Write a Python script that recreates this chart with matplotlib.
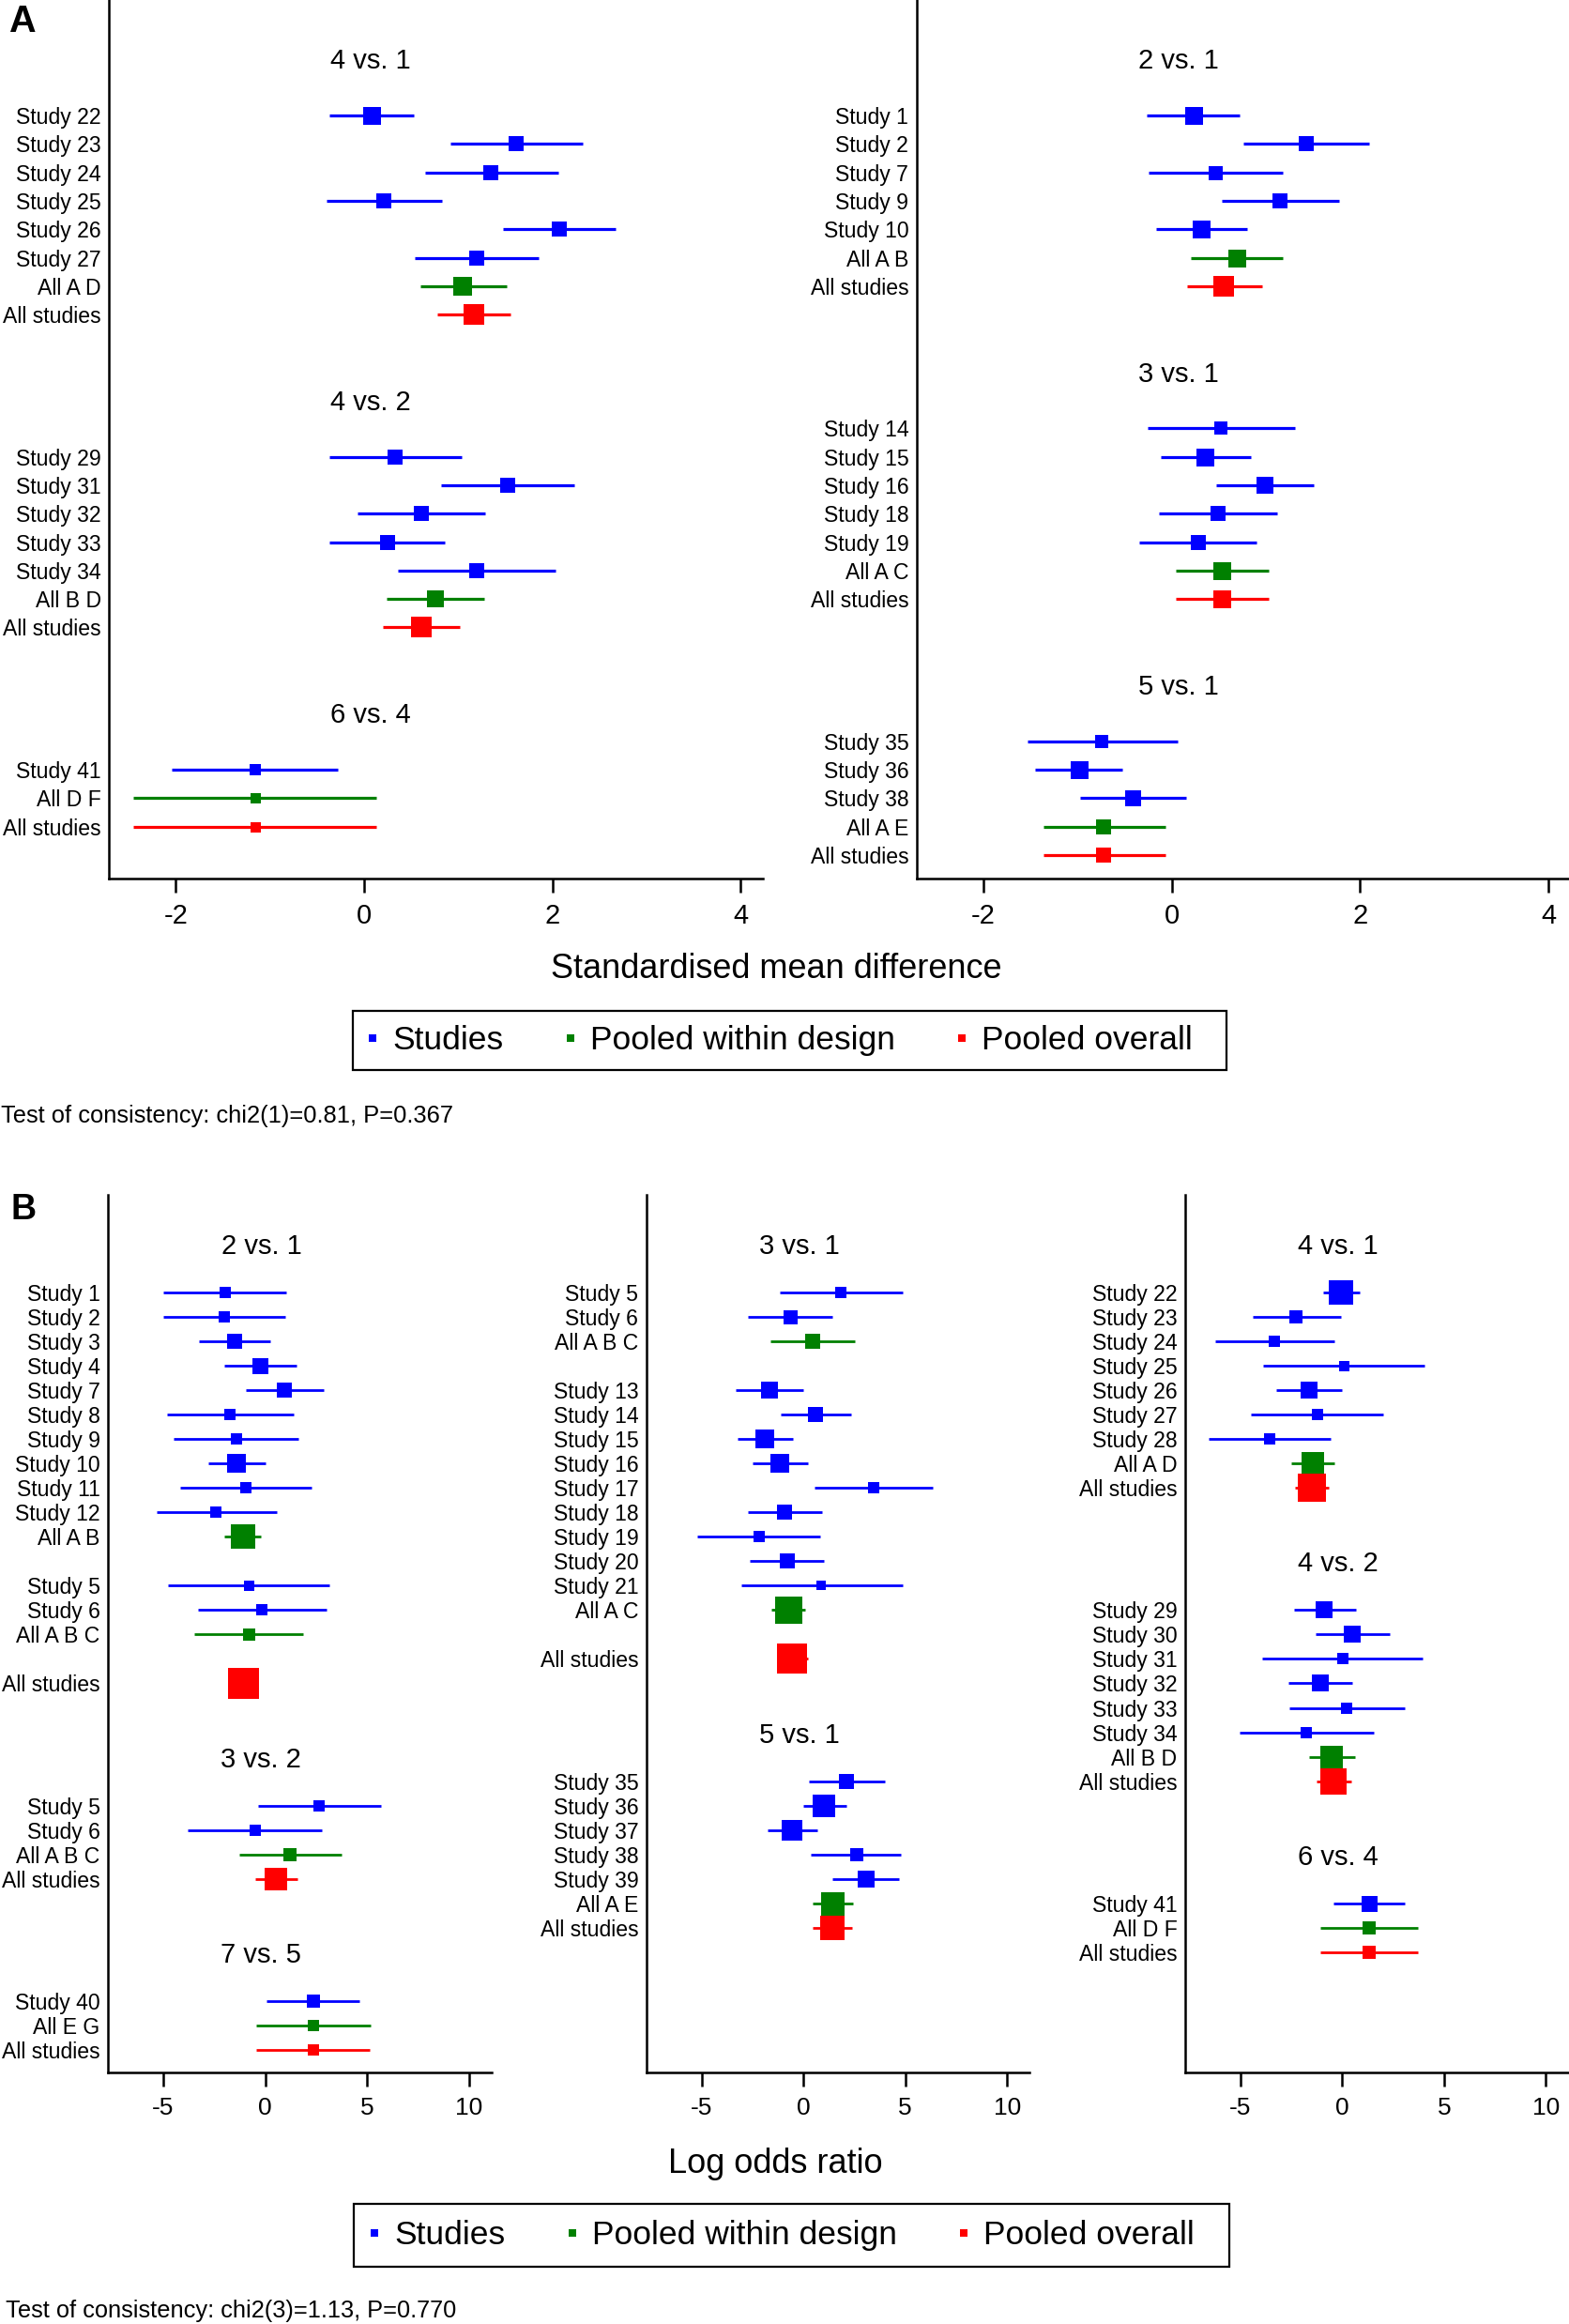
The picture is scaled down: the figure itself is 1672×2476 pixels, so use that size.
import matplotlib
matplotlib.use("Agg")
import matplotlib.pyplot as plt
import matplotlib.transforms as mtransforms
from matplotlib.lines import Line2D
from matplotlib.patches import Rectangle

plt.rcParams['font.family'] = ['Liberation Sans', 'DejaVu Sans']
plt.rcParams['axes.unicode_minus'] = False

W, H = 1672, 2476

BLUE = '#0000ff'
GREEN = '#008000'
RED = '#ff0000'

# rows: (label, estimate, lower, upper, box size ~ weight); None = blank row
# ---- A: standardised mean difference
smd_4v1 = [
    ("Study 22", 0.08, -0.37, 0.53, 19),
    ("Study 23", 1.61, 0.92, 2.32, 16),
    ("Study 24", 1.35, 0.65, 2.06, 16),
    ("Study 25", 0.21, -0.40, 0.83, 16),
    ("Study 26", 2.07, 1.47, 2.67, 16),
    ("Study 27", 1.20, 0.54, 1.85, 16),
    ("All A D", 1.05, 0.60, 1.51, 20),
    ("All studies", 1.17, 0.78, 1.55, 22),
]
smd_4v2 = [
    ("Study 29", 0.33, -0.37, 1.04, 16),
    ("Study 31", 1.52, 0.82, 2.23, 16),
    ("Study 32", 0.61, -0.07, 1.29, 16),
    ("Study 33", 0.25, -0.37, 0.86, 16),
    ("Study 34", 1.20, 0.36, 2.03, 16),
    ("All B D", 0.76, 0.24, 1.28, 18.5),
    ("All studies", 0.61, 0.20, 1.02, 22),
]
smd_6v4 = [
    ("Study 41", -1.16, -2.04, -0.28, 12.5),
    ("All D F", -1.16, -2.45, 0.13, 11),
    ("All studies", -1.16, -2.45, 0.13, 11),
]
smd_2v1 = [
    ("Study 1", 0.23, -0.26, 0.72, 19),
    ("Study 2", 1.43, 0.76, 2.10, 15.5),
    ("Study 7", 0.46, -0.24, 1.18, 15),
    ("Study 9", 1.15, 0.53, 1.78, 16),
    ("Study 10", 0.31, -0.17, 0.80, 19),
    ("All A B", 0.69, 0.20, 1.18, 19),
    ("All studies", 0.55, 0.16, 0.96, 22),
]
smd_3v1 = [
    ("Study 14", 0.52, -0.25, 1.31, 14),
    ("Study 15", 0.35, -0.12, 0.84, 19),
    ("Study 16", 0.99, 0.47, 1.51, 18),
    ("Study 18", 0.49, -0.14, 1.12, 16.5),
    ("Study 19", 0.28, -0.34, 0.90, 16),
    ("All A C", 0.53, 0.04, 1.03, 19),
    ("All studies", 0.53, 0.04, 1.03, 19),
]
smd_5v1 = [
    ("Study 35", -0.74, -1.53, 0.06, 14.5),
    ("Study 36", -0.98, -1.45, -0.52, 19),
    ("Study 38", -0.41, -0.97, 0.15, 17),
    ("All A E", -0.72, -1.36, -0.07, 15.5),
    ("All studies", -0.72, -1.36, -0.07, 15.5),
]

# ---- B: log odds ratio
lor_2v1 = [
    ("Study 1", -1.98, -4.98, 1.04, 12),
    ("Study 2", -1.99, -4.98, 0.97, 12),
    ("Study 3", -1.50, -3.23, 0.25, 16.5),
    ("Study 4", -0.26, -2.03, 1.53, 17),
    ("Study 7", 0.94, -0.97, 2.88, 15.7),
    ("Study 8", -1.71, -4.81, 1.38, 12),
    ("Study 9", -1.43, -4.51, 1.65, 12),
    ("Study 10", -1.40, -2.78, 0.03, 19.5),
    ("Study 11", -0.96, -4.18, 2.29, 11.5),
    ("Study 12", -2.41, -5.34, 0.56, 12),
    ("All A B", -1.10, -2.01, -0.21, 27),
    None,
    ("Study 5", -0.82, -4.76, 3.15, 11),
    ("Study 6", -0.15, -3.31, 3.01, 12),
    ("All A B C", -0.82, -3.48, 1.88, 13),
    None,
    ("All studies", -1.09, -1.75, -0.43, 33),
]
lor_3v2 = [
    ("Study 5", 2.65, -0.35, 5.67, 12),
    ("Study 6", -0.49, -3.82, 2.80, 12),
    ("All A B C", 1.22, -1.27, 3.74, 13.5),
    ("All studies", 0.53, -0.49, 1.58, 24.5),
]
lor_7v5 = [
    ("Study 40", 2.36, 0.08, 4.63, 14.3),
    ("All E G", 2.36, -0.46, 5.16, 12),
    ("All studies", 2.36, -0.44, 5.14, 12),
]
lor_3v1 = [
    ("Study 5", 1.83, -1.17, 4.87, 12),
    ("Study 6", -0.66, -2.73, 1.43, 15),
    ("All A B C", 0.43, -1.63, 2.52, 15.4),
    None,
    ("Study 13", -1.68, -3.34, 0.00, 17.5),
    ("Study 14", 0.61, -1.10, 2.35, 16.8),
    ("Study 15", -1.91, -3.24, -0.53, 20.7),
    ("Study 16", -1.15, -2.48, 0.20, 20.4),
    ("Study 17", 3.44, 0.53, 6.35, 12.5),
    ("Study 18", -0.92, -2.71, 0.90, 16.4),
    ("Study 19", -2.19, -5.21, 0.82, 12),
    ("Study 20", -0.81, -2.65, 1.02, 16.4),
    ("Study 21", 0.89, -3.06, 4.87, 10.7),
    ("All A C", -0.74, -1.56, 0.10, 29),
    None,
    ("All studies", -0.54, -1.30, 0.23, 31.5),
]
lor_5v1 = [
    ("Study 35", 2.12, 0.28, 4.01, 16),
    ("Study 36", 1.02, -0.03, 2.09, 24),
    ("Study 37", -0.54, -1.76, 0.69, 22),
    ("Study 38", 2.60, 0.38, 4.80, 14.3),
    ("Study 39", 3.06, 1.41, 4.69, 18),
    ("All A E", 1.41, 0.43, 2.42, 25),
    ("All studies", 1.40, 0.43, 2.40, 25.5),
]
lor_4v1 = [
    ("Study 22", -0.05, -0.94, 0.86, 27),
    ("Study 23", -2.25, -4.40, -0.08, 14.7),
    ("Study 24", -3.32, -6.25, -0.38, 12.5),
    ("Study 25", 0.07, -3.88, 4.03, 11),
    ("Study 26", -1.64, -3.24, 0.00, 18),
    ("Study 27", -1.22, -4.46, 2.03, 11.5),
    ("Study 28", -3.57, -6.55, -0.56, 11.8),
    ("All A D", -1.44, -2.48, -0.38, 24),
    ("All studies", -1.50, -2.33, -0.68, 29.5),
]
lor_4v2 = [
    ("Study 29", -0.88, -2.38, 0.66, 18.6),
    ("Study 30", 0.51, -1.31, 2.33, 17.2),
    ("Study 31", 0.02, -3.93, 3.97, 11.5),
    ("Study 32", -1.07, -2.64, 0.51, 18),
    ("Study 33", 0.23, -2.58, 3.07, 12.5),
    ("Study 34", -1.74, -5.02, 1.54, 12),
    ("All B D", -0.53, -1.64, 0.61, 23.3),
    ("All studies", -0.41, -1.26, 0.43, 28),
]
lor_6v4 = [
    ("Study 41", 1.31, -0.43, 3.07, 17),
    ("All D F", 1.31, -1.07, 3.72, 14.3),
    ("All studies", 1.31, -1.06, 3.70, 14.3),
]

legend_labels = ["Studies", "Pooled within design", "Pooled overall"]
test_A = "Test of consistency: chi2(1)=0.81, P=0.367"
test_B = "Test of consistency: chi2(3)=1.13, P=0.770"


def colour_of(label):
    if label == "All studies":
        return RED
    if label.startswith("All "):
        return GREEN
    return BLUE


def px_axes(x, top, w, h):
    # pixel box -> figure fraction
    return [x / W, 1 - (top + h) / H, w / W, h / H]


def forest(ax, groups, xlim, xticks, ylim, lw, fs_lab, fs_title, fs_tick):
    blend = mtransforms.blended_transform_factory(ax.transAxes, ax.transData)
    ticks, labels = [], []
    row = 0
    for title, items in groups:
        ax.text(0.4, row - 2, title, transform=blend, ha='center',
                va='center_baseline', fontsize=fs_title)
        for item in items:
            if item is None:
                row += 1
                continue
            lab, est, lo, hi, box = item
            c = colour_of(lab)
            ax.hlines(row, lo, hi, color=c, lw=lw, zorder=2)
            ax.scatter([est], [row], marker='s', s=(box * 0.72) ** 2,
                       color=c, linewidths=0, zorder=3)
            ticks.append(row)
            labels.append(lab)
            row += 1
        row += 4
    ax.set_yticks(ticks, labels, fontsize=fs_lab)
    ax.set_xticks(xticks, [str(t) for t in xticks], fontsize=fs_tick)
    ax.set_xlim(*xlim)
    ax.set_ylim(*ylim)
    for s in ('top', 'right'):
        ax.spines[s].set_visible(False)
    for s in ('left', 'bottom'):
        ax.spines[s].set_linewidth(1.8)
    ax.tick_params(axis='y', length=0, pad=6)
    ax.tick_params(axis='x', length=11, width=1.8, pad=8)
    ax.set_facecolor('none')


def add_legend(fig, cx, cy, box):
    handles = [Line2D([], [], ls='none', marker='s', ms=5.5, mew=0, color=c)
               for c in (BLUE, GREEN, RED)]
    fig.legend(handles, legend_labels, loc='center',
               bbox_to_anchor=(cx / W, 1 - cy / H), ncol=3,
               fontsize=25.5, frameon=False, handlelength=0.6,
               handletextpad=0.3, columnspacing=1.71, borderpad=0.0)
    x0, y0, x1, y1 = box
    fig.add_artist(Rectangle((x0 / W, 1 - y1 / H), (x1 - x0) / W, (y1 - y0) / H,
                             transform=fig.transFigure, fill=False,
                             edgecolor='black', linewidth=1.6))


fig = plt.figure(figsize=(W / 100, H / 100), dpi=100)

# ---------------- panel A ----------------
ylim_A = (26.83, -4.06)
xlim_A = (-2.71, 4.235)
axA1 = fig.add_axes(px_axes(116, 0, 697, 936))
forest(axA1, [("4 vs. 1", smd_4v1), ("4 vs. 2", smd_4v2), ("6 vs. 4", smd_6v4)],
       xlim_A, [-2, 0, 2, 4], ylim_A, 2.3, 16.6, 21, 21)
axA2 = fig.add_axes(px_axes(976.6, 0, 697, 936))
forest(axA2, [("2 vs. 1", smd_2v1), ("3 vs. 1", smd_3v1), ("5 vs. 1", smd_5v1)],
       xlim_A, [-2, 0, 2, 4], ylim_A, 2.3, 16.6, 21, 21)

fig.text(9 / W, 1 - 23 / H, "A", fontsize=28.5, fontweight='bold', va='center')
fig.text(827 / W, 1 - 1042 / H, "Standardised mean difference", fontsize=26,
         ha='center', va='baseline')
add_legend(fig, 829, 1108.5, (376, 1077, 1307, 1140))
fig.text(1 / W, 1 - 1196 / H, test_A, fontsize=18.4, ha='left', va='baseline')

# ---------------- panel B ----------------
ylim_B = (31.9, -3.98)
xlim_B = (-7.72, 11.1)
axB1 = fig.add_axes(px_axes(115, 1273, 408.5, 934.7))
forest(axB1, [("2 vs. 1", lor_2v1), ("3 vs. 2", lor_3v2), ("7 vs. 5", lor_7v5)],
       xlim_B, [-5, 0, 5, 10], ylim_B, 2.0, 16.6, 21, 19)
axB2 = fig.add_axes(px_axes(688.6, 1273, 408.5, 934.7))
forest(axB2, [("3 vs. 1", lor_3v1), ("5 vs. 1", lor_5v1)],
       xlim_B, [-5, 0, 5, 10], ylim_B, 2.0, 16.6, 21, 19)
axB3 = fig.add_axes(px_axes(1262.7, 1273, 408.5, 934.7))
forest(axB3, [("4 vs. 1", lor_4v1), ("4 vs. 2", lor_4v2), ("6 vs. 4", lor_6v4)],
       xlim_B, [-5, 0, 5, 10], ylim_B, 2.0, 16.6, 21, 19)

fig.text(12 / W, 1 - 1289 / H, "B", fontsize=27, fontweight='bold', va='center')
fig.text(826 / W, 1 - 2315 / H, "Log odds ratio", fontsize=26,
         ha='center', va='baseline')
add_legend(fig, 831, 2381.5, (377, 2348, 1310, 2415))
fig.text(6 / W, 1 - 2469 / H, test_B, fontsize=18.3, ha='left', va='baseline')

fig.savefig("out.png", dpi=100, facecolor='white')
